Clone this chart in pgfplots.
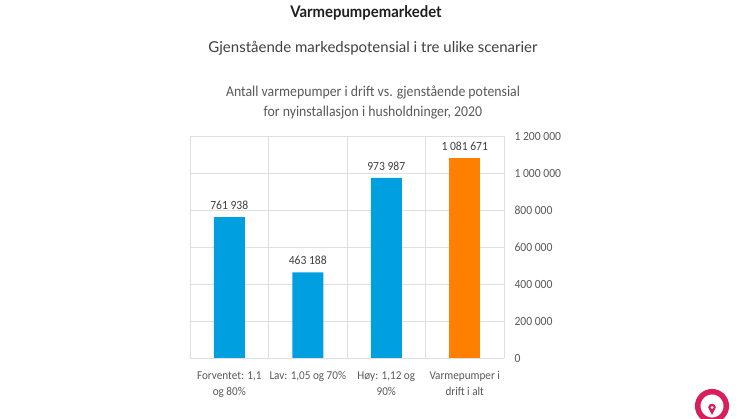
\documentclass[border=0pt]{standalone}
\usepackage{pgfplots}
\pgfplotsset{compat=1.18}
\usepackage{fontspec}
\setmainfont[FakeStretch=0.93]{Carlito}
\newfontfamily\headfont{Lato}
\newfontfamily\boldhead[FakeStretch=0.93]{Lato Bold}
\newfontfamily\charttitle[FakeStretch=0.92]{Carlito}
\definecolor{barblue}{HTML}{009FE0}
\definecolor{barorange}{HTML}{FF8000}
\definecolor{gridc}{HTML}{DFDFDF}
\definecolor{txt}{HTML}{595959}
\definecolor{lbl}{HTML}{404040}
\definecolor{logo}{HTML}{D81E5B}
\begin{document}
\begin{tikzpicture}[x=1pt,y=1pt]
\useasboundingbox (0,0) rectangle (746,419);
\node[font=\boldhead\fontsize{16}{18}\selectfont,text=black!88] at (366,406.5) {Varmepumpemarkedet};
\node[font=\headfont\fontsize{15}{18}\selectfont,text=black!75] at (373,371) {Gjenstående markedspotensial i tre ulike scenarier};
\node[font=\charttitle\fontsize{15}{20}\selectfont,text=txt,align=center] at (373,317) {Antall varmepumper i drift vs. gjenstående potensial\\for nyinstallasjon i husholdninger, 2020};
\begin{axis}[
  at={(190pt,61pt)},anchor=south west,
  scale only axis,width=314pt,height=222pt,
  ybar,bar width=31pt,
  xmin=-0.5,xmax=3.5,ymin=0,ymax=1200000,
  axis y line*=right,
  axis x line*=bottom,
  axis line style={gridc},
  xtick={0,1,2,3},
  xticklabels={{Forventet: 1,1\\og 80\%},{Lav: 1,05 og 70\%},{Høy: 1,12 og\\90\%},{Varmepumper i\\drift i alt}},
  xticklabel style={align=center,font=\fontsize{12}{16}\selectfont,text=txt,anchor=north,yshift=-10pt},
  minor xtick={-0.5,0.5,1.5,2.5,3.5},
  xminorgrids=true,
  ytick={0,200000,400000,600000,800000,1000000,1200000},
  ymajorgrids=true,
  grid style={gridc,line width=0.8pt},
  minor grid style={gridc,line width=0.8pt},
  major tick length=0pt,minor tick length=0pt,
  scaled y ticks=false,
  yticklabel style={font=\fontsize{12.5}{14}\selectfont,text=txt,xshift=7pt,yshift=-0.5pt,
    /pgf/number format/assume math mode=true,
    /pgf/number format/fixed,/pgf/number format/precision=0,
    /pgf/number format/1000 sep={\ },/pgf/number format/min exponent for 1000 sep=0},
  nodes near coords,
  every node near coord/.append style={font=\fontsize{12.5}{14}\selectfont,text=lbl,
    /pgf/number format/assume math mode=true,
    /pgf/number format/fixed,/pgf/number format/precision=0,
    /pgf/number format/1000 sep={\ },yshift=4pt},
  clip=false,
]
\addplot[fill=barblue,draw=none,bar shift=0pt] coordinates {(0,761938) (1,463188) (2,973987)};
\addplot[fill=barorange,draw=none,bar shift=0pt] coordinates {(3,1081671)};
\end{axis}
\begin{scope}
\clip (0,0) rectangle (746,419);
\draw[logo,line width=5.5pt] (712,13) circle (14.3pt);
\fill[logo] (712,4) -- (708.2,11.5) arc[start angle=180,end angle=0,radius=3.8pt] -- cycle;
\fill[white] (712,11.5) circle (1.5pt);
\end{scope}
\end{tikzpicture}
\end{document}
